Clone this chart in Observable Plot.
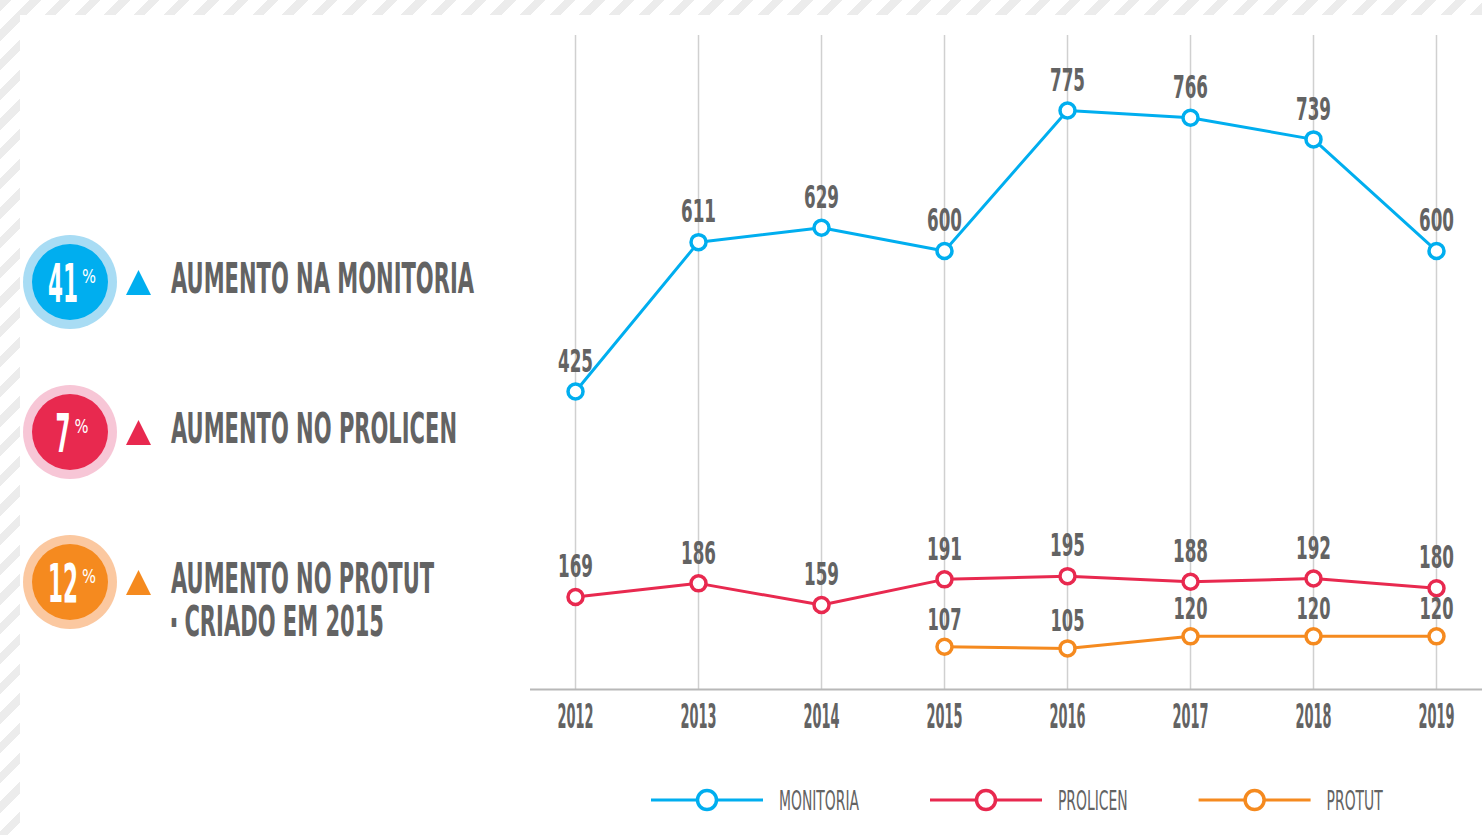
<!DOCTYPE html>
<html><head><meta charset="utf-8">
<script src="https://cdn.jsdelivr.net/npm/d3@7"></script>
<script src="https://cdn.jsdelivr.net/npm/@observablehq/plot@0.6"></script>
<style>
html,body{margin:0;padding:0;}
body{width:1482px;height:835px;position:relative;overflow:hidden;
  background:repeating-linear-gradient(135deg,#ececec 0 8px,#ffffff 8px 21px);}
#main{position:absolute;left:20px;top:15px;right:0;bottom:0;background:#fff;}
#chart{position:absolute;left:530px;top:15px;}
#left{position:absolute;left:0;top:0;}
#legend{position:absolute;left:0;top:760px;}
</style></head><body>
<div id="main"></div>
<svg id="left" width="1482" height="760"></svg>
<div id="chart"></div>
<svg id="legend" width="1482" height="75"></svg>
<script>
// ---- data ----
const years = [2012, 2013, 2014, 2015, 2016, 2017, 2018, 2019];
const monitoria = [425, 611, 629, 600, 775, 766, 739, 600];
const prolicen = [169, 186, 159, 191, 195, 188, 192, 180];
const protutYears = [2015, 2016, 2017, 2018, 2019];
const protut = [107, 105, 120, 120, 120];
const seriesNames = ["MONITORIA", "PROLICEN", "PROTUT"];
const seriesColors = ["#00aeef", "#e8294f", "#f58a1f"];
const haloColors = ["#a8dcf4", "#f7c6d6", "#fbc8a0"];
const increasePct = [41, 7, 12];
const increaseLabels = [["AUMENTO NA MONITORIA"], ["AUMENTO NO PROLICEN"], ["AUMENTO NO PROTUT", "▪ CRIADO EM 2015"]];

const FONT = "'Liberation Sans Narrow','Arial Narrow','DejaVu Sans Condensed',sans-serif";
const GREY = "#636363";

const L = d3.select("#left");
function measure(str, size, weight) {
  const t = L.append("text").attr("font-family", FONT).attr("font-size", size)
    .attr("font-weight", weight).text(str);
  const w = t.node().getComputedTextLength();
  t.remove();
  return w;
}
function squeeze(nodes, k) {
  nodes.forEach(n => {
    const w = n.getComputedTextLength();
    if (w > 0) {
      n.setAttribute("textLength", (w * k).toFixed(1));
      n.setAttribute("lengthAdjust", "spacingAndGlyphs");
    }
  });
}

// ---- chart ----
const data = [
  ...years.map((y, i) => ({year: y, value: monitoria[i], series: seriesNames[0]})),
  ...years.map((y, i) => ({year: y, value: prolicen[i], series: seriesNames[1]})),
  ...protutYears.map((y, i) => ({year: y, value: protut[i], series: seriesNames[2]}))
];
const yDomain = [53.8, 868.4];
const xDomain = [2011.634, 2019.374];

const plot = Plot.plot({
  width: 952, height: 745,
  marginTop: 20, marginBottom: 71, marginLeft: 0, marginRight: 0,
  x: {domain: xDomain, label: null},
  y: {domain: yDomain, axis: null},
  color: {domain: seriesNames, range: seriesColors},
  style: {background: "transparent", fontFamily: FONT, color: GREY},
  marks: [
    Plot.gridX({ticks: years, stroke: "#d0d0d0", strokeOpacity: 1, strokeWidth: 1.5}),
    Plot.ruleY([yDomain[0]], {stroke: "#b8b8b8", strokeWidth: 2}),
    Plot.line(data, {x: "year", y: "value", z: "series", stroke: "series", strokeWidth: 3}),
    Plot.dot(data, {x: "year", y: "value", stroke: "series", fill: "white", r: 7.5, strokeWidth: 3.5}),
    Plot.text(data.filter(d => d.series !== "PROTUT"), {x: "year", y: "value", text: d => String(d.value), dy: -30, fontSize: 32, fill: GREY}),
    Plot.text(data.filter(d => d.series === "PROTUT"), {x: "year", y: "value", text: d => String(d.value), dy: -27, fontSize: 31, fill: GREY}),
    Plot.axisX({ticks: years, tickFormat: d => String(d), tickSize: 0, tickPadding: 14, fontSize: 34, label: null})
  ]
});
document.getElementById("chart").appendChild(plot);
const psvg = d3.select(plot);
psvg.selectAll("text").attr("font-weight", "bold");
const kVal = 35 / measure("169", 32, "bold");
const kYear = 36 / measure("2012", 34, "bold");
squeeze(psvg.selectAll('g[aria-label="text"] text').nodes(), kVal);
squeeze(psvg.selectAll('g[aria-label="x-axis tick label"] text').nodes(), kYear);

// ---- left summary panel ----
const kNum = 30 / measure("41", 54, "bold");
const kPc = 14 / measure("%", 19, "normal");
const kLab = 303 / measure("AUMENTO NA MONITORIA", 42, "bold");

increasePct.forEach((p, i) => {
  const cy = 282 + i * 150, cx = 70;
  const g = L.append("g").attr("font-family", FONT);
  g.append("circle").attr("cx", cx).attr("cy", cy).attr("r", 47).attr("fill", haloColors[i]);
  g.append("circle").attr("cx", cx).attr("cy", cy).attr("r", 38).attr("fill", seriesColors[i]);
  const num = g.append("text").attr("font-size", 54).attr("font-weight", "bold").attr("fill", "#fff")
    .attr("y", cy + 20).text(p);
  const pc = g.append("text").attr("font-size", 19).attr("fill", "#fff").attr("y", cy + 1).text("%");
  squeeze([num.node()], kNum);
  squeeze([pc.node()], kPc);
  const wn = +num.attr("textLength"), wp = +pc.attr("textLength");
  const start = cx + 2 - (wn + 4 + wp) / 2;
  num.attr("x", start);
  pc.attr("x", start + wn + 4);
  g.append("path").attr("d", `M126,${cy + 13}L151,${cy + 13}L138.5,${cy - 12}Z`).attr("fill", seriesColors[i]);
  increaseLabels[i].forEach((s, j) => {
    const t2 = g.append("text").attr("x", 171).attr("y", cy + 10.5 + j * 43)
      .attr("font-size", 42).attr("font-weight", "bold").attr("fill", GREY);
    if (s.startsWith("▪")) {
      t2.append("tspan").attr("font-size", 18).attr("dy", -9).text("▪");
      t2.append("tspan").attr("dy", 9).text(s.slice(1));
    } else {
      t2.text(s);
    }
    squeeze([t2.node()], kLab);
  });
});

// ---- legend ----
const LG = d3.select("#legend").attr("font-family", FONT);
const kLeg = 80 / measure("MONITORIA", 26, "normal");
let lx = 651;
const ly = 40;
seriesNames.forEach((name, i) => {
  LG.append("line").attr("x1", lx).attr("x2", lx + 112).attr("y1", ly).attr("y2", ly)
    .attr("stroke", seriesColors[i]).attr("stroke-width", 3);
  LG.append("circle").attr("cx", lx + 56).attr("cy", ly).attr("r", 9.5)
    .attr("fill", "#fff").attr("stroke", seriesColors[i]).attr("stroke-width", 3.5);
  const t = LG.append("text").attr("x", lx + 128).attr("y", ly + 10).attr("font-size", 26)
    .attr("fill", GREY).text(name);
  squeeze([t.node()], kLeg);
  lx = lx + 128 + (+t.attr("textLength")) + 71;
});
</script>
</body></html>
